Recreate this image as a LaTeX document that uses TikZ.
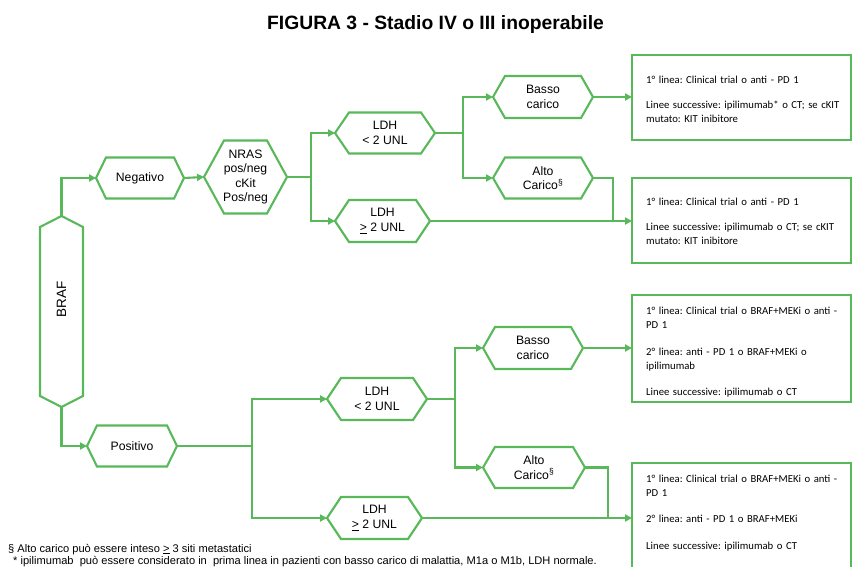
\documentclass[tikz,border=0pt]{standalone}
\usepackage{fontspec}
\setmainfont{Liberation Sans}
\newfontfamily\boxfont{Carlito}
\usetikzlibrary{arrows.meta}
\definecolor{gr}{RGB}{88,184,90}
\newcommand\hexH[2]{\draw[hexline] (#1.west) -- ([xshift=#2pt]#1.north west) -- ([xshift=-#2pt]#1.north east) -- (#1.east) -- ([xshift=-#2pt]#1.south east) -- ([xshift=#2pt]#1.south west) -- cycle;}
\frenchspacing
\begin{document}
\begin{tikzpicture}[x=1pt,y=-1pt,
  hx/.style={inner sep=0pt, outer sep=0pt, align=center, font=\fontsize{12.2}{14.5}\selectfont},
  hexline/.style={draw=gr, line width=2.1pt, line join=miter},
  bx/.style={draw=gr, line width=2.1pt, inner sep=0pt, outer sep=0pt},
  btxt/.style={anchor=base west, inner sep=0pt, text width=205pt, align=left, font=\boxfont\fontsize{10.7}{14.5}\selectfont},
  line/.style={draw=gr, line width=2.1pt},
  conn/.style={draw=gr, line width=2.1pt, -{Triangle[length=7pt,width=7pt]}},
  fn/.style={anchor=base west, inner sep=0pt, font=\fontsize{11.1}{12}\selectfont}]
\useasboundingbox (0,0) rectangle (852,567);
% title
\node[inner sep=0pt, anchor=base, font=\bfseries\fontsize{19.3}{22}\selectfont] (title) at (435.5,30) {FIGURA 3 - Stadio IV o III inoperabile};
% nodes
\node[hx, minimum width=43, minimum height=191, font=\fontsize{13.5}{16}\selectfont] (braf) at (61.5,311.5) {\rotatebox{90}{\hspace{24pt}BRAF}};
\draw[hexline] (braf.north) -- ([yshift=-11pt]braf.north east) -- ([yshift=11pt]braf.south east) -- (braf.south) -- ([yshift=11pt]braf.south west) -- ([yshift=-11pt]braf.north west) -- cycle;
\node[hx, minimum width=88, minimum height=41] (neg) at (140,178) {Negativo};
\node[hx, minimum width=83, minimum height=73] (nras) at (245.5,177) {\raisebox{4pt}{\begin{tabular}{@{}c@{}}NRAS\\pos/neg\\cKit\\Pos/neg\end{tabular}}};
\node[hx, minimum width=100, minimum height=41] (ldh1) at (385,133) {LDH\\< 2 UNL};
\node[hx, minimum width=95, minimum height=42] (ldh2) at (382.5,221) {LDH\\\underline{>} 2 UNL};
\node[hx, minimum width=100, minimum height=42] (basso1) at (543,97) {Basso\\carico};
\node[hx, minimum width=100, minimum height=41] (alto1) at (543,178) {Alto\\Carico\textsuperscript{§}};
\node[hx, minimum width=90, minimum height=41] (pos) at (132,446) {Positivo};
\node[hx, minimum width=100, minimum height=42] (ldh3) at (377,399) {LDH\\< 2 UNL};
\node[hx, minimum width=95, minimum height=42] (ldh4) at (374.5,518) {LDH\\\underline{>} 2 UNL};
\node[hx, minimum width=100, minimum height=42] (basso2) at (533,348) {Basso\\carico};
\node[hx, minimum width=102, minimum height=41] (alto2) at (534,467.5) {Alto\\Carico\textsuperscript{§}};
\hexH{neg}{10}
\hexH{nras}{20}
\hexH{ldh1}{14}
\hexH{ldh2}{14}
\hexH{basso1}{12}
\hexH{alto1}{12}
\hexH{pos}{10}
\hexH{ldh3}{14}
\hexH{ldh4}{14}
\hexH{basso2}{12}
\hexH{alto2}{12}
% boxes
\node[bx, minimum width=219, minimum height=85] (box1) at (741.5,97.5) {};
\node[bx, minimum width=219, minimum height=85] (box2) at (741.5,220.5) {};
\node[bx, minimum width=219, minimum height=107] (box3) at (741.5,348.5) {};
\node[bx, minimum width=219, minimum height=112] (box4) at (741.5,519) {};
\node[btxt] (t1) at (646,84) {1° linea: Clinical trial o anti - PD 1\\[10pt]Linee successive: ipilimumab* o CT; se cKIT\\mutato: KIT inibitore};
\node[btxt] (t2) at (646,206) {1° linea: Clinical trial o anti - PD 1\\[10pt]Linee successive: ipilimumab o CT; se cKIT\\mutato: KIT inibitore};
\node[btxt] (t3) at (646,314) {1° linea: Clinical trial o BRAF+MEKi o anti -\\PD 1\\[12pt]2° linea: anti - PD 1 o BRAF+MEKi o\\ipilimumab\\[11pt]Linee successive: ipilimumab o CT};
\node[btxt] (t4) at (646,482) {1° linea: Clinical trial o BRAF+MEKi o anti -\\PD 1\\[11pt]2° linea: anti - PD 1 o BRAF+MEKi\\[13pt]Linee successive: ipilimumab o CT};
% junctions
\coordinate (j1) at (311,177);
\coordinate (j2) at (463,133);
\coordinate (j3) at (613,221);
\coordinate (j4) at (252,446);
\coordinate (j5) at (455,399);
\coordinate (j6) at (608,518);
% connectors
\draw[conn] (braf.north) |- (neg.west);
\draw[conn] (neg.east) -- (nras.west);
\draw[line] (nras.east) -- (j1);
\draw[conn] (j1) |- (ldh1.west);
\draw[conn] (j1) |- (ldh2.west);
\draw[line] (ldh1.east) -- (j2);
\draw[conn] (j2) |- (basso1.west);
\draw[conn] (j2) |- (alto1.west);
\draw[conn] (basso1.east) -- (box1.west |- basso1.east);
\draw[line] (alto1.east) -| (j3);
\draw[conn] (ldh2.east) -- (box2.west |- ldh2.east);
\draw[conn] (braf.south) |- (pos.west);
\draw[line] (pos.east) -- (j4);
\draw[conn] (j4) |- (ldh3.west);
\draw[conn] (j4) |- (ldh4.west);
\draw[line] (ldh3.east) -- (j5);
\draw[conn] (j5) |- (basso2.west);
\draw[conn] (j5) |- (alto2.west);
\draw[conn] (basso2.east) -- (box3.west |- basso2.east);
\draw[line] (alto2.east) -| (j6);
\draw[conn] (ldh4.east) -- (box4.west |- ldh4.east);
% footnotes
\node[fn] (f1) at (8,552) {§ Alto carico può essere inteso \underline{>} 3 siti metastatici};
\node[fn] (f2) at (13,564.5) {* ipilimumab\ \ può essere considerato in\ \ prima linea in pazienti con basso carico di malattia, M1a o M1b, LDH normale.};
\end{tikzpicture}
\end{document}
